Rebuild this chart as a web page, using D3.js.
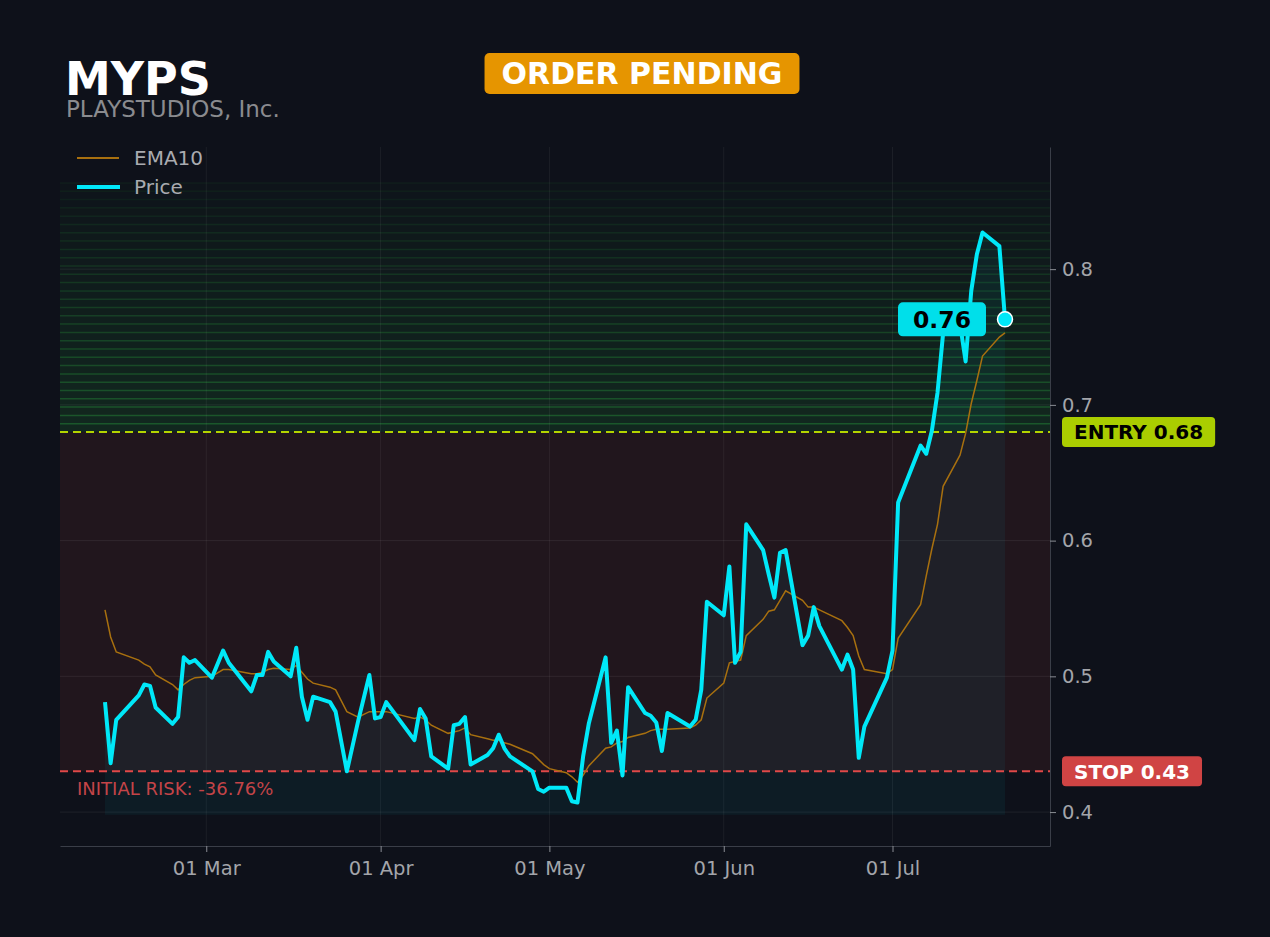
<!DOCTYPE html>
<html>
<head>
<meta charset="utf-8">
<script src="https://cdn.jsdelivr.net/npm/d3@7"></script>
<style>
  body { margin: 0; background: #0e111a; }
  text { font-family: "DejaVu Sans", sans-serif; }
</style>
</head>
<body>
<svg id="chart" width="1270" height="937"></svg>
<script>
// ---- data ----
const dates = [
  "2026-02-11","2026-02-12","2026-02-13","2026-02-17","2026-02-18","2026-02-19","2026-02-20",
  "2026-02-23","2026-02-24","2026-02-25","2026-02-26","2026-02-27",
  "2026-03-02","2026-03-04","2026-03-05","2026-03-09","2026-03-10","2026-03-11","2026-03-12","2026-03-13",
  "2026-03-16","2026-03-17","2026-03-18","2026-03-19","2026-03-20","2026-03-23","2026-03-24","2026-03-26",
  "2026-03-28","2026-03-30","2026-03-31","2026-04-01","2026-04-02","2026-04-07","2026-04-08","2026-04-09",
  "2026-04-10","2026-04-13","2026-04-14","2026-04-15","2026-04-16","2026-04-17","2026-04-20","2026-04-21",
  "2026-04-22","2026-04-23","2026-04-24","2026-04-28","2026-04-29","2026-04-30","2026-05-01","2026-05-04",
  "2026-05-05","2026-05-06","2026-05-07","2026-05-08","2026-05-11","2026-05-12","2026-05-13","2026-05-14",
  "2026-05-15","2026-05-18","2026-05-19","2026-05-20","2026-05-21","2026-05-22","2026-05-26","2026-05-27",
  "2026-05-28","2026-05-29","2026-06-01","2026-06-02","2026-06-03","2026-06-04","2026-06-05","2026-06-08",
  "2026-06-09","2026-06-10","2026-06-11","2026-06-12","2026-06-15","2026-06-16","2026-06-17","2026-06-18",
  "2026-06-22","2026-06-23","2026-06-24","2026-06-25","2026-06-26","2026-06-30","2026-07-01","2026-07-02",
  "2026-07-06","2026-07-07","2026-07-08","2026-07-09","2026-07-10","2026-07-13","2026-07-14","2026-07-15",
  "2026-07-16","2026-07-17","2026-07-20","2026-07-21"
];
const priceValues = [
  0.481,0.436,0.468,0.486,0.494,0.493,0.477,
  0.465,0.470,0.514,0.510,0.512,
  0.499,0.519,0.510,0.489,0.501,0.501,0.518,0.511,
  0.500,0.521,0.485,0.468,0.485,0.481,0.474,0.430,
  0.467,0.501,0.469,0.470,0.481,0.453,0.476,0.469,
  0.441,0.432,0.464,0.465,0.470,0.435,0.442,0.447,
  0.457,0.447,0.441,0.430,0.417,0.415,0.418,0.418,
  0.408,0.407,0.441,0.465,0.514,0.451,0.460,0.427,
  0.492,0.473,0.471,0.466,0.445,0.473,0.463,0.468,
  0.490,0.555,0.545,0.581,0.510,0.518,0.612,0.593,
  0.575,0.558,0.591,0.593,0.523,0.530,0.551,0.537,
  0.505,0.516,0.505,0.440,0.463,0.499,0.519,0.628,
  0.670,0.664,0.681,0.709,0.753,0.760,0.732,0.784,
  0.811,0.827,0.817,0.763
];
const emaValues = [
  0.549,0.529,0.518,0.512,0.509,0.507,0.501,
  0.494,0.490,0.494,0.497,0.499,
  0.500,0.505,0.505,0.502,0.502,0.503,0.505,0.506,
  0.505,0.508,0.503,0.498,0.495,0.492,0.490,0.474,
  0.470,0.474,0.474,0.474,0.474,0.469,0.470,0.468,
  0.464,0.458,0.459,0.460,0.462,0.457,0.454,0.453,
  0.453,0.451,0.450,0.443,0.439,0.435,0.432,0.429,
  0.426,0.422,0.427,0.434,0.447,0.448,0.451,0.452,
  0.455,0.458,0.460,0.461,0.461,0.461,0.462,0.464,
  0.468,0.484,0.495,0.510,0.511,0.512,0.530,0.542,
  0.548,0.549,0.556,0.563,0.556,0.551,0.551,0.549,
  0.541,0.536,0.530,0.515,0.505,0.502,0.505,0.528,
  0.553,0.574,0.594,0.612,0.640,0.663,0.679,0.701,
  0.718,0.736,0.750,0.753
];
const yTicks = [0.4, 0.5, 0.6, 0.7, 0.8];
const entryPrice = 0.68;
const stopPrice = 0.43;
const targetTop = 0.8635;
const tickerName = "MYPS";
const companyName = "PLAYSTUDIOS, Inc.";
const orderStatus = "ORDER PENDING";

// ---- setup ----
const svg = d3.select("#chart");
const plotL = 60, plotR = 1050, plotT = 147, plotB = 846;
const parse = d3.timeParse("%Y-%m-%d");
const data = dates.map((d, i) => ({ date: parse(d), price: priceValues[i], ema: emaValues[i] }));
const first = data[0], last = data[data.length - 1];

const x = d3.scaleTime()
  .domain([d3.timeDay.offset(first.date, -8), d3.timeDay.offset(last.date, 8)])
  .range([plotL, plotR]);
const y = d3.scaleLinear().domain([0.375, 0.89]).range([plotB, plotT]);

const cyan = "#00e8f8", green = "#b4d400", red = "#e04848";

svg.append("rect").attr("width", 1270).attr("height", 937).attr("fill", "#0e111a");

svg.append("defs").append("clipPath").attr("id", "plot")
  .append("rect").attr("x", plotL).attr("y", plotT).attr("width", plotR - plotL).attr("height", plotB - plotT);

const plot = svg.append("g").attr("clip-path", "url(#plot)");

// target zone: stepped green bands
const nBands = 30;
const bandH = (y(entryPrice) - y(targetTop)) / nBands;
const bands = d3.range(nBands);
plot.append("g").selectAll("rect").data(bands).enter().append("rect")
  .attr("x", plotL).attr("width", plotR - plotL)
  .attr("y", i => y(entryPrice) - (i + 1) * bandH)
  .attr("height", bandH)
  .attr("fill", "rgb(40,170,60)")
  .attr("fill-opacity", i => 0.02 + 0.13 * (1 - i / nBands));
plot.append("g").selectAll("line").data(bands).enter().append("line")
  .attr("x1", plotL).attr("x2", plotR)
  .attr("y1", i => y(entryPrice) - (i + 1) * bandH)
  .attr("y2", i => y(entryPrice) - (i + 1) * bandH)
  .attr("stroke", "rgb(45,170,65)").attr("stroke-width", 1.5)
  .attr("stroke-opacity", i => 0.06 + 0.32 * (1 - i / nBands));

// risk zone
plot.append("rect")
  .attr("x", plotL).attr("width", plotR - plotL)
  .attr("y", y(entryPrice)).attr("height", y(stopPrice) - y(entryPrice))
  .attr("fill", "#21161d");

// grid
const monthTicks = x.ticks(d3.timeMonth.every(1));
plot.append("g").selectAll("line").data(monthTicks).enter().append("line")
  .attr("x1", d => x(d)).attr("x2", d => x(d)).attr("y1", plotT).attr("y2", plotB)
  .attr("stroke", "#ffffff").attr("stroke-opacity", 0.06);
plot.append("g").selectAll("line").data(yTicks).enter().append("line")
  .attr("x1", plotL).attr("x2", plotR).attr("y1", d => y(d)).attr("y2", d => y(d))
  .attr("stroke", "#ffffff").attr("stroke-opacity", 0.07);

// area under price
const area = d3.area().x(d => x(d.date)).y0(y(0.398)).y1(d => y(d.price));
plot.append("path").datum(data).attr("d", area).attr("fill", cyan).attr("fill-opacity", 0.05);

// entry / stop lines
plot.append("line").attr("x1", plotL).attr("x2", plotR)
  .attr("y1", y(entryPrice)).attr("y2", y(entryPrice))
  .attr("stroke", green).attr("stroke-width", 2).attr("stroke-dasharray", "8,5");
plot.append("line").attr("x1", plotL).attr("x2", plotR)
  .attr("y1", y(stopPrice)).attr("y2", y(stopPrice))
  .attr("stroke", red).attr("stroke-width", 2).attr("stroke-dasharray", "8,5");

// EMA + price
plot.append("path").datum(data)
  .attr("d", d3.line().x(d => x(d.date)).y(d => y(d.ema)))
  .attr("fill", "none").attr("stroke", "#a8700f").attr("stroke-width", 1.5);
plot.append("path").datum(data)
  .attr("d", d3.line().x(d => x(d.date)).y(d => y(d.price)))
  .attr("fill", "none").attr("stroke", cyan).attr("stroke-width", 4)
  .attr("stroke-linejoin", "round");

// initial risk text
const risk = (stopPrice - entryPrice) / entryPrice * 100;
svg.append("text").attr("x", plotL + 17).attr("y", y(stopPrice) + 24)
  .attr("fill", "#c44448").attr("font-size", 18)
  .text("INITIAL RISK: " + risk.toFixed(2) + "%");

// axes
const yAxis = svg.append("g").attr("transform", `translate(${plotR},0)`)
  .call(d3.axisRight(y).tickValues(yTicks).tickFormat(d3.format(".1f")).tickSize(6).tickSizeOuter(0).tickPadding(6));
const xAxis = svg.append("g").attr("transform", `translate(0,${plotB})`)
  .call(d3.axisBottom(x).ticks(d3.timeMonth.every(1)).tickFormat(d3.timeFormat("%d %b")).tickSize(6).tickSizeOuter(0).tickPadding(9));
[yAxis, xAxis].forEach(g => {
  g.select(".domain").attr("stroke", "#3a3e48");
  g.selectAll(".tick line").attr("stroke", "#8a8d94");
  g.selectAll(".tick text").attr("fill", "#a3a5aa").attr("font-size", 19.5)
    .attr("font-family", "DejaVu Sans, sans-serif");
});

// side labels
function tag(val, label, fill, color) {
  const g = svg.append("g");
  const t = g.append("text").attr("x", plotR + 24).attr("y", y(val)).attr("dy", "0.36em")
    .attr("font-size", 20).attr("font-weight", "bold").attr("fill", color).text(label);
  const w = t.node().getComputedTextLength();
  g.insert("rect", "text").attr("x", plotR + 12).attr("y", y(val) - 15)
    .attr("width", w + 24).attr("height", 30).attr("rx", 4).attr("fill", fill);
}
tag(entryPrice, "ENTRY " + entryPrice.toFixed(2), "#aacd00", "#000");
tag(stopPrice, "STOP " + stopPrice.toFixed(2), "#d04444", "#fff");

// last price
const lx = x(last.date), ly = y(last.price);
const lg = svg.append("g");
const lt = lg.append("text").attr("x", lx - 63).attr("y", ly).attr("dy", "0.36em")
  .attr("text-anchor", "middle").attr("font-size", 23.5).attr("font-weight", "bold")
  .attr("fill", "#000").text(last.price.toFixed(2));
const lw = lt.node().getComputedTextLength() + 30;
lg.insert("rect", "text").attr("x", lx - 63 - lw / 2).attr("y", ly - 17)
  .attr("width", lw).attr("height", 34).attr("rx", 5).attr("fill", "#00dfea");
svg.append("circle").attr("cx", lx).attr("cy", ly).attr("r", 7.5)
  .attr("fill", cyan).attr("stroke", "#fff").attr("stroke-width", 1.5);

// legend
const legend = svg.append("g");
legend.append("line").attr("x1", 77).attr("x2", 119).attr("y1", 158).attr("y2", 158)
  .attr("stroke", "#a8700f").attr("stroke-width", 2);
legend.append("text").attr("x", 134).attr("y", 158).attr("dy", "0.36em")
  .attr("fill", "#a9abb0").attr("font-size", 20).text("EMA10");
legend.append("line").attr("x1", 77).attr("x2", 120).attr("y1", 187).attr("y2", 187)
  .attr("stroke", cyan).attr("stroke-width", 4);
legend.append("text").attr("x", 134).attr("y", 187).attr("dy", "0.36em")
  .attr("fill", "#a9abb0").attr("font-size", 20).text("Price");

// titles
svg.append("text").attr("x", 65).attr("y", 95).attr("fill", "#fff")
  .attr("font-size", 46).attr("font-weight", "bold").text(tickerName);
svg.append("text").attr("x", 66).attr("y", 117).attr("fill", "#8a8b8f")
  .attr("font-size", 23).text(companyName);

const badge = svg.append("g");
const bt = badge.append("text").attr("x", 642).attr("y", 73.5).attr("dy", "0.36em")
  .attr("text-anchor", "middle").attr("font-size", 30).attr("font-weight", "bold")
  .attr("fill", "#fff").text(orderStatus);
const bw = bt.node().getComputedTextLength() + 34;
badge.insert("rect", "text").attr("x", 642 - bw / 2).attr("y", 53)
  .attr("width", bw).attr("height", 41).attr("rx", 5).attr("fill", "#e69500");
</script>
</body>
</html>
